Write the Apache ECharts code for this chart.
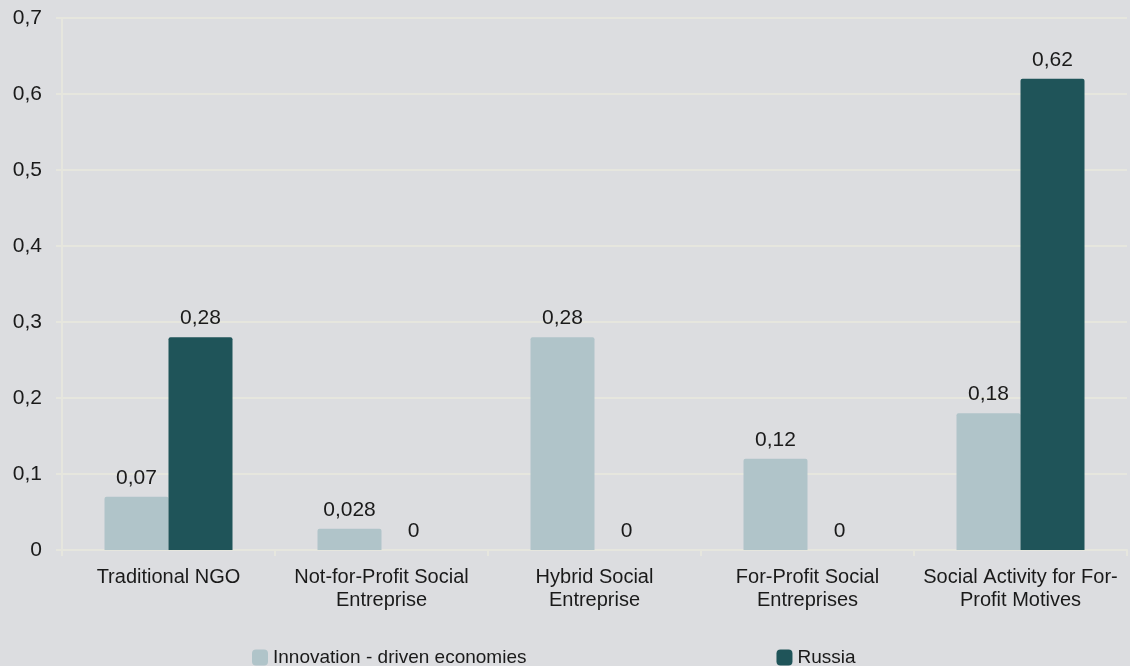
<!DOCTYPE html>
<html>
<head>
<meta charset="utf-8">
<script src="https://cdn.jsdelivr.net/npm/echarts@6/dist/echarts.min.js"></script>
<style>
  html, body { margin: 0; padding: 0; background: #dcdde0; }
  #chart { width: 1130px; height: 666px; }
</style>
</head>
<body>
<div id="chart"></div>
<script>
  // categories and values
  let categories = [
    'Traditional NGO',
    'Not-for-Profit Social\nEntreprise',
    'Hybrid Social\nEntreprise',
    'For-Profit Social\nEntreprises',
    'Social Activity for For-\nProfit Motives'
  ]
  let innovation = [0.07, 0.028, 0.28, 0.12, 0.18]
  let russia = [0.28, 0, 0, 0, 0.62]
  let seriesNames = ['Innovation - driven economies', 'Russia']

  let fmt = function (v) {
    return String(v).replace('.', ',')
  }

  let chart = echarts.init(document.getElementById('chart'))
  let font = 'Liberation Sans, Arial, sans-serif'

  let labelStyle = {
    show: true,
    position: 'top',
    distance: 8,
    color: '#1a1a1a',
    fontSize: 21,
    fontFamily: font,
    formatter: function (p) { return fmt(p.value) }
  }

  let options = {
    backgroundColor: '#dcdde0',
    animation: false,
    grid: {
      left: 62,
      right: 3,
      top: 18,
      bottom: 116,
      containLabel: false,
      outerBoundsMode: 'none'
    },
    legend: {
      data: seriesNames,
      top: 643,
      left: 247,
      itemWidth: 16,
      itemHeight: 16,
      itemGap: 250,
      icon: 'roundRect',
      textStyle: { color: '#1a1a1a', fontSize: 19, fontFamily: font }
    },
    xAxis: [
      {
        type: 'category',
        data: categories,
        axisLine: { lineStyle: { color: '#e6e6de', width: 2 } },
        axisTick: { show: true, length: 6, lineStyle: { color: '#e6e6de', width: 2 } },
        axisLabel: {
          color: '#1a1a1a',
          fontSize: 20,
          fontFamily: font,
          margin: 16,
          lineHeight: 23,
          interval: 0
        }
      }
    ],
    yAxis: [
      {
        type: 'value',
        min: 0,
        max: 0.7,
        interval: 0.1,
        axisLine: { show: true, lineStyle: { color: '#e6e6de', width: 2 } },
        axisTick: { show: true, length: 6, lineStyle: { color: '#e6e6de', width: 2 } },
        splitLine: { lineStyle: { color: '#e6e6de', width: 2 } },
        axisLabel: {
          color: '#1a1a1a',
          fontSize: 21,
          fontFamily: font,
          margin: 20,
          formatter: function (v) { return fmt(Math.round(v * 10) / 10) }
        }
      }
    ],
    series: [
      {
        name: seriesNames[0],
        type: 'bar',
        barWidth: 64,
        barGap: '0%',
        itemStyle: { color: '#b0c4c9', borderRadius: [2, 2, 0, 0] },
        label: labelStyle,
        data: innovation
      },
      {
        name: seriesNames[1],
        type: 'bar',
        barWidth: 64,
        itemStyle: { color: '#1f5459', borderRadius: [2, 2, 0, 0] },
        label: labelStyle,
        data: russia
      }
    ]
  }
  chart.setOption(options)
</script>
</body>
</html>
